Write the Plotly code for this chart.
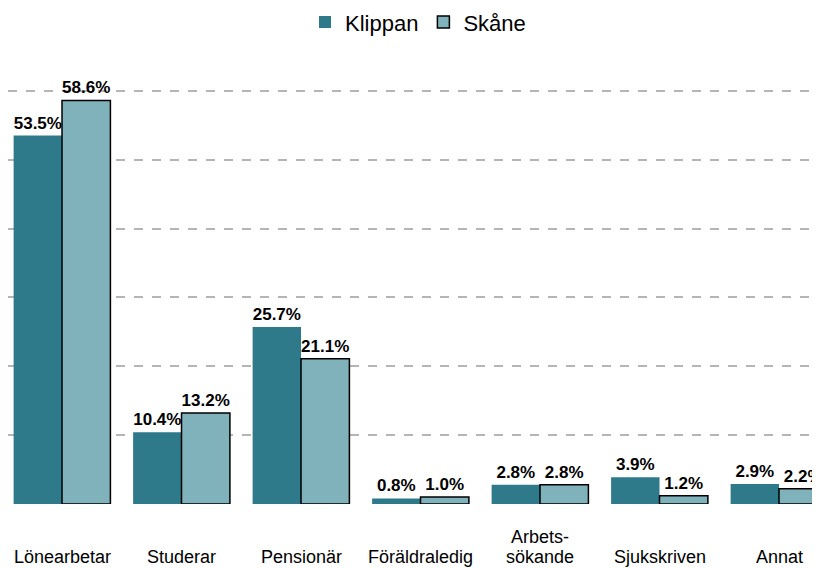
import plotly.graph_objects as go

categories = ["Lönearbetar", "Studerar", "Pensionär", "Föräldraledig",
              "Arbets-<br>sökande", "Sjukskriven", "Annat"]
klippan = [53.5, 10.4, 25.7, 0.8, 2.8, 3.9, 2.9]
skane = [58.6, 13.2, 21.1, 1.0, 2.8, 1.2, 2.2]

FONT = "Liberation Sans, Arial"

fig = go.Figure()

fig.add_trace(go.Bar(
    x=categories, y=klippan, name="Klippan",
    marker=dict(color="#2e7a8b", line=dict(width=0)),
    text=[f"{v:.1f}%" for v in klippan], textposition="outside",
    constraintext="none", cliponaxis=False,
    textfont=dict(family=FONT, size=17, color="black", weight="bold"),
))
fig.add_trace(go.Bar(
    x=categories, y=skane, name="Skåne",
    marker=dict(color="#7fb2bb", line=dict(color="black", width=1.5)),
    text=[f"{v:.1f}%" for v in skane], textposition="outside",
    constraintext="none", cliponaxis=False,
    textfont=dict(family=FONT, size=17, color="black", weight="bold"),
))

# category labels as annotations so that the last line of every label shares a baseline
for cat in categories:
    lines = cat.split("<br>")
    for j, line in enumerate(lines):
        fig.add_annotation(
            x=cat, xref="x", y=0, yref="paper", yanchor="middle",
            yshift=-53 + 20 * (len(lines) - 1 - j),
            text=line, showarrow=False,
            font=dict(family=FONT, size=18, color="black"),
        )

fig.update_layout(
    width=820, height=568,
    margin=dict(l=0, r=0, t=69, b=72),
    plot_bgcolor="white", paper_bgcolor="white",
    barmode="group", bargap=0.19, bargroupgap=0,
    font=dict(family=FONT, size=16, color="black"),
    legend=dict(orientation="h", x=0.5, xanchor="center", y=0.975, yanchor="middle",
                yref="container", font=dict(size=22)),
)

fig.update_xaxes(
    range=[-0.452, 6.41], showticklabels=False,
    showline=False, ticks="", showgrid=False,
)
fig.update_yaxes(
    range=[0, 62], dtick=10, showticklabels=False, zeroline=False,
    showgrid=True, gridcolor="#b5b5b5", gridwidth=1.5, griddash="dash",
)

fig.write_html("out.html")
